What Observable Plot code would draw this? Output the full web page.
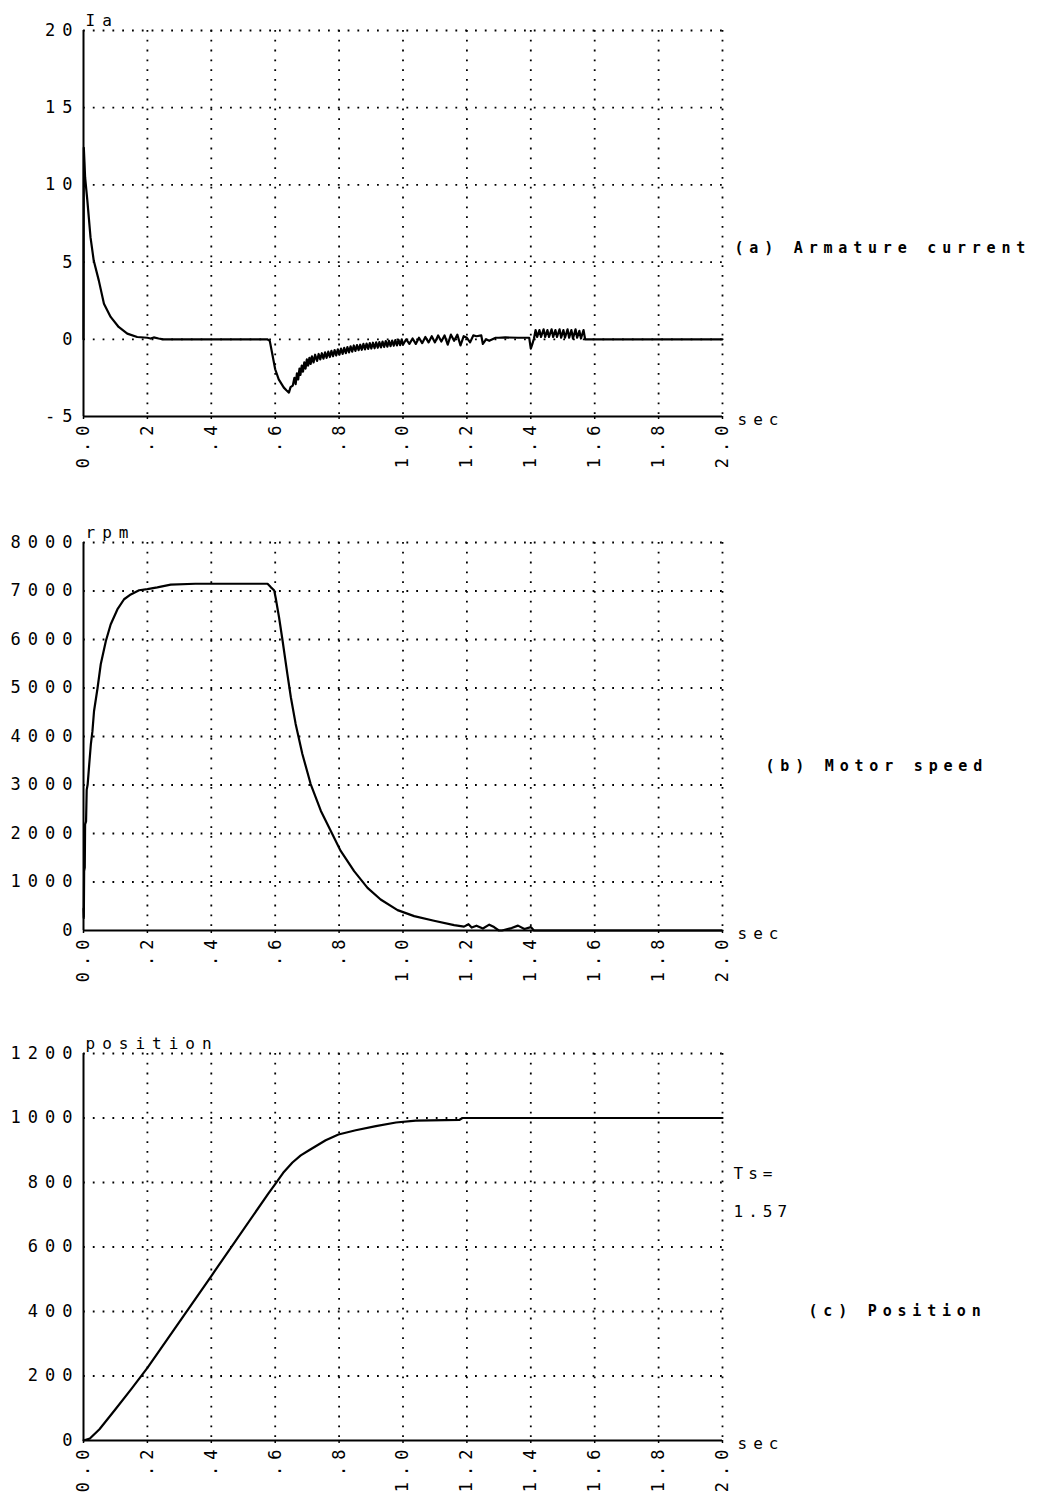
<!DOCTYPE html>
<html>
<head>
<meta charset="utf-8">
<script src="https://cdn.jsdelivr.net/npm/d3@7"></script>
<script src="https://cdn.jsdelivr.net/npm/@observablehq/plot@0.6"></script>
<style>
  body { margin: 0; background: #fff; }
  #chart { width: 1037px; }
  #chart svg { display: block; }
  #chart svg text { letter-spacing: 7px; }
</style>
</head>
<body>
<div id="chart"></div>
<script>
// ---------- shared x axis ----------
const xTicks = [0, 0.2, 0.4, 0.6, 0.8, 1.0, 1.2, 1.4, 1.6, 1.8, 2.0];
const xTickLabels = ["0.0", ".2", ".4", ".6", ".8", "1.0", "1.2", "1.4", "1.6", "1.8", "2.0"];

// ---------- (a) armature current ----------
const timeA = [0, 0.001, 0.003, 0.005, 0.012, 0.022, 0.032, 0.048, 0.064, 0.085, 0.11, 0.137, 0.168, 0.2, 0.21, 0.22, 0.235, 0.25,
  0.575, 0.583, 0.59, 0.6, 0.611, 0.627, 0.635, 0.643, 0.648, 0.655, 0.66, 0.664, 0.668, 0.672, 0.676, 0.679, 0.683, 0.687, 0.691,
  0.695, 0.699, 0.703, 0.707, 0.711, 0.715, 0.72, 0.725, 0.731, 0.736, 0.741, 0.746, 0.751, 0.756, 0.761, 0.766, 0.771, 0.776,
  0.781, 0.786, 0.791, 0.796, 0.801, 0.806, 0.811, 0.816, 0.821, 0.826, 0.831, 0.836, 0.841, 0.846, 0.851, 0.856, 0.861, 0.866,
  0.871, 0.876, 0.881, 0.886, 0.891, 0.896, 0.901, 0.906, 0.911, 0.916, 0.921, 0.926, 0.931, 0.936, 0.941, 0.946, 0.951, 0.956,
  0.961, 0.966, 0.971, 0.976, 0.981, 0.986, 0.991, 0.996, 1.0, 1.01, 1.02, 1.03, 1.04, 1.05, 1.06, 1.07, 1.08, 1.09, 1.1, 1.11,
  1.12, 1.13, 1.14, 1.15, 1.16, 1.17, 1.18, 1.19, 1.2, 1.21, 1.22, 1.23, 1.245, 1.25, 1.26, 1.27, 1.29, 1.3, 1.32, 1.36, 1.395,
  1.4, 1.405, 1.41, 1.415, 1.42, 1.427, 1.432, 1.44, 1.445, 1.452, 1.457, 1.465, 1.47, 1.477, 1.482, 1.49, 1.495, 1.502, 1.507,
  1.515, 1.52, 1.527, 1.532, 1.54, 1.545, 1.552, 1.557, 1.565, 1.57, 2.0];
const currentA = [0, 12.4, 11.5, 10.5, 9.0, 6.6, 5.1, 3.8, 2.3, 1.45, 0.8, 0.37, 0.15, 0.1, 0.05, 0.12, 0.05, 0,
  0, -0.1, -0.86, -1.94, -2.6, -3.13, -3.3, -3.45, -3.1, -3.0, -2.5, -2.9, -2.2, -2.6, -1.9, -2.3, -1.7, -2.1, -1.5,
  -1.9, -1.3, -1.7, -1.2, -1.6, -1.1, -1.5, -1.0, -1.4, -0.95, -1.3, -0.9, -1.25, -0.85, -1.2, -0.8, -1.15, -0.75,
  -1.1, -0.7, -1.05, -0.65, -1.0, -0.6, -0.95, -0.55, -0.9, -0.5, -0.85, -0.45, -0.8, -0.4, -0.75, -0.38, -0.7, -0.35,
  -0.68, -0.3, -0.65, -0.28, -0.62, -0.25, -0.6, -0.22, -0.58, -0.2, -0.55, -0.18, -0.52, -0.15, -0.5, -0.12, -0.48, -0.1,
  -0.45, -0.08, -0.42, -0.05, -0.4, -0.03, -0.38, 0.0, -0.35, 0.0, -0.3, 0.05, -0.3, 0.1, -0.25, 0.15, -0.2, 0.2, -0.2, 0.25,
  -0.15, 0.25, -0.35, 0.3, -0.1, 0.3, -0.4, 0.2, 0.1, -0.2, 0.25, 0.2, 0.25, -0.3, 0.0, -0.1, 0.1, 0.1, 0.12, 0.1, 0.1,
  -0.6, -0.3, 0.05, 0.6, 0.15, 0.6, 0.15, 0.65, 0.15, 0.6, 0.15, 0.65, 0.15, 0.6, 0.15, 0.65, 0.1, 0.6, 0.1,
  0.65, 0.1, 0.6, 0.05, 0.65, 0.1, 0.55, 0.05, 0.6, 0.0, 0];
const yTicksA = [-5, 0, 5, 10, 15, 20];

// ---------- (b) motor speed ----------
const timeB = [0, 0.001, 0.002, 0.004, 0.005, 0.008, 0.010, 0.013, 0.018, 0.023, 0.028, 0.033, 0.044, 0.054, 0.070, 0.085, 0.106,
  0.127, 0.148, 0.174, 0.2, 0.231, 0.273, 0.35, 0.576, 0.586, 0.597, 0.602, 0.612, 0.623, 0.638, 0.649, 0.664, 0.685, 0.711,
  0.743, 0.774, 0.805, 0.847, 0.889, 0.930, 0.983, 1.035, 1.097, 1.16, 1.191, 1.205, 1.215, 1.23, 1.25, 1.27, 1.285, 1.3, 1.31,
  1.34, 1.36, 1.38, 1.4, 1.41, 2.0];
const speedB = [450, 260, 1225, 1300, 2190, 2250, 2900, 3010, 3430, 3840, 4110, 4525, 5000, 5490, 5970, 6310, 6620,
  6830, 6930, 7015, 7040, 7075, 7130, 7150, 7150, 7080, 7010, 6840, 6460, 5980, 5290, 4810, 4260, 3640, 3020,
  2465, 2050, 1640, 1225, 880, 640, 420, 296, 200, 110, 80, 130, 60, 100, 40, 120, 70, 0, 0,
  50, 100, 30, 70, 0, 0];
const yTicksB = [0, 1000, 2000, 3000, 4000, 5000, 6000, 7000, 8000];

// ---------- (c) position ----------
const timeC = [0, 0.02, 0.05, 0.1, 0.15, 0.2, 0.4, 0.58, 0.6, 0.625, 0.654, 0.68, 0.706, 0.758, 0.798, 0.852, 0.915, 0.978, 1.04, 1.176, 1.186, 2.0];
const positionC = [0, 6, 35, 97, 160, 225, 510, 768, 795, 830, 862, 884, 900, 931, 949, 962, 975, 986, 992, 994, 1000, 1000];
const yTicksC = [0, 200, 400, 600, 800, 1000, 1200];

const panels = [
  {time: timeA, values: currentA, yTicks: yTicksA, yTitle: "Ia", label: "(a) Armature current",
   height: 500, marginTop: 30, marginBottom: 84, labelDx: 12, labelDy: 25},
  {time: timeB, values: speedB, yTicks: yTicksB, yTitle: "rpm", label: "(b) Motor speed",
   height: 515, marginTop: 42, marginBottom: 85, labelDx: 43, labelDy: 30},
  {time: timeC, values: positionC, yTicks: yTicksC, yTitle: "position", label: "(c) Position",
   height: 483, marginTop: 38, marginBottom: 58, labelDx: 86, labelDy: 64,
   extra: [["Ts=", -73], ["1.57", -35]]}
];

const xLabelOf = new Map(xTicks.map((t, i) => [t, xTickLabels[i]]));
const chart = document.getElementById("chart");

for (const p of panels) {
  const data = p.time.map((t, i) => ({t, v: p.values[i]}));
  const ymin = p.yTicks[0], ymax = p.yTicks[p.yTicks.length - 1];
  const dot = {stroke: "black", strokeOpacity: 1, strokeWidth: 1.8, strokeDasharray: "1.8,8"};
  const marks = [
    Plot.gridX(xTicks.slice(1), dot),
    Plot.gridY(p.yTicks.slice(1), dot),
    Plot.ruleX([0], {stroke: "black", strokeWidth: 2}),
    Plot.ruleY([ymin], {stroke: "black", strokeWidth: 2}),
    Plot.axisX(xTicks, {tickFormat: d => xLabelOf.get(d), tickRotate: -90, tickSize: 3, tickPadding: 0,
      strokeWidth: 1.5, label: null, fontSize: 17}),
    Plot.axisY(p.yTicks, {tickFormat: d => String(d), tickSize: 0, tickPadding: 4, label: null, fontSize: 17}),
    Plot.line(data, {x: "t", y: "v", stroke: "black", strokeWidth: 2.2}),
    Plot.text([p.yTitle], {frameAnchor: "top-left", dx: 2, dy: -10, textAnchor: "start", lineAnchor: "middle", fontSize: 16}),
    Plot.text(["sec"], {frameAnchor: "bottom-right", dx: 15, dy: 3, textAnchor: "start", lineAnchor: "middle", fontSize: 16}),
    Plot.text([p.label], {frameAnchor: "right", dx: p.labelDx, dy: p.labelDy, textAnchor: "start",
      fontWeight: "bold", fontSize: 15})
  ];
  if (p.extra) {
    for (const [txt, dy] of p.extra) {
      marks.push(Plot.text([txt], {frameAnchor: "right", dx: 11, dy, textAnchor: "start", fontSize: 16}));
    }
  }
  const svg = Plot.plot({
    width: 1037,
    height: p.height,
    marginLeft: 83,
    marginRight: 315,
    marginTop: p.marginTop,
    marginBottom: p.marginBottom,
    style: {fontFamily: "'DejaVu Sans Mono', monospace", fontSize: "16px", color: "black", background: "white"},
    x: {domain: [0, 2], label: null},
    y: {domain: [ymin, ymax], label: null},
    marks
  });
  const sel = d3.select(svg);
  sel.selectAll("text").filter(function () { return this.textContent === p.label; })
    .style("letter-spacing", "5.8px");
  sel.selectAll("text").filter(function () { return this.textContent === "Ts=" || this.textContent === "1.57"; })
    .style("letter-spacing", "5px");
  sel.selectAll('g[aria-label="x-axis tick label"] text').style("letter-spacing", "6px");
  sel.selectAll("text").filter(function () { return this.textContent === "sec"; })
    .style("letter-spacing", "6px");
  chart.appendChild(svg);
}
</script>
</body>
</html>
